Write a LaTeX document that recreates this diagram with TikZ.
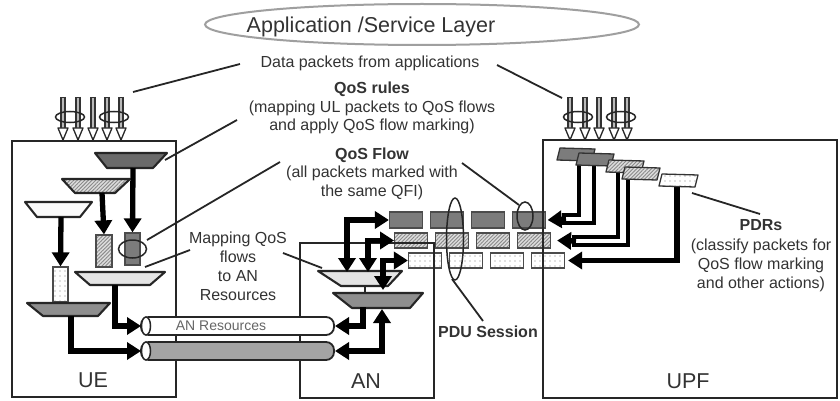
\documentclass[tikz,border=0pt]{standalone}
\usepackage{fontspec}
\setmainfont{Liberation Sans}
\usetikzlibrary{arrows.meta,patterns.meta}
\definecolor{txt}{HTML}{333333}
\definecolor{pdark}{HTML}{7C7C7C}
\definecolor{tdark}{HTML}{6A6A6A}
\definecolor{tgrey}{HTML}{8E8E8E}
\definecolor{tlight}{HTML}{E4E4E4}
\definecolor{hbg}{HTML}{DDDDDD}
\definecolor{hln}{HTML}{8A8A8A}
\definecolor{tubegrey}{HTML}{A4A4A4}
\begin{document}
\begin{tikzpicture}[x=1pt,y=-1pt,
  txtnode/.style={text=txt, inner sep=0pt, align=center},
  bodyfont/.style={font=\fontsize{16pt}{18.5pt}\selectfont},
  bigfont/.style={font=\fontsize{21.5pt}{24pt}\selectfont},
  boxline/.style={draw=black!85, line width=2.4pt},
  thinline/.style={draw=black!85, line width=1.8pt},
  loopline/.style={draw=black!85, line width=1.5pt},
  bigarrow/.style={draw=black, line width=5.3pt, -{Triangle[length=14pt,width=17pt]}},
  dblarrow/.style={draw=black, line width=5.3pt, {Triangle[length=14pt,width=17pt]}-{Triangle[length=14pt,width=17pt]}},
  flowline/.style={draw=black, line width=4.6pt},
  pkt/.style={draw=black!70, line width=1.2pt, minimum width=33pt, minimum height=15pt, inner sep=0pt},
  pktdark/.style={pkt, fill=pdark},
  hatchfill/.style={preaction={fill=hbg}, pattern={Lines[angle=45,distance=2.6pt,line width=0.9pt]}, pattern color=hln},
  dotfill/.style={preaction={fill=white}, pattern={Dots[distance=5pt,radius=0.7pt]}, pattern color=gray},
  pkthatch/.style={pkt, hatchfill},
  pktdot/.style={pkt, dotfill},
  trap/.style={draw=black!85, line width=2.1pt, line join=round},
  tube/.style={draw=black!85, line width=1.8pt, rounded corners=8pt},
  pdr/.style={draw=black!80, line width=1.3pt, line join=round},
]
\useasboundingbox (0,0) rectangle (840,401);
\fill[white] (0,0) rectangle (840,401);

% Application layer
\draw[draw=gray!75, line width=2pt] (422,24.5) ellipse[x radius=217pt, y radius=20.5pt];
\node[txtnode, bigfont] (applbl) at (371,27) {Application /Service Layer};
\node[txtnode, bodyfont] (datalbl) at (370,63) {Data packets from applications};
\node[txtnode, bodyfont] (rules) at (372,108) {\textbf{QoS rules}\\(mapping UL packets to QoS flows\\and apply QoS flow marking)};
\node[txtnode, bodyfont] (flow) at (372,173.5) {\textbf{QoS Flow}\\(all packets marked with\\the same QFI)};
\node[txtnode, font=\fontsize{16pt}{19pt}\selectfont] (mapping) at (238,266.5) {Mapping QoS\\flows\\to AN\\Resources};
\node[txtnode, font=\fontsize{16pt}{19.3pt}\selectfont] (pdrs) at (761,256) {\textbf{PDRs}\\(classify packets for\\QoS flow marking\\and other actions)};
\node[txtnode, font=\fontsize{16pt}{18pt}\selectfont\bfseries] (pdu) at (488,332) {PDU Session};

% packet arrows from applications
\foreach \x in {63,78,93,107,121,570,585,599,614,627} {
  \draw[line width=6.5pt, black!80] (\x,97) -- (\x,129);
  \draw[line width=2.6pt, gray!55] (\x,98.5) -- (\x,129);
  \draw[line width=1.3pt, draw=black!85, fill=white, line join=round] ({\x-5},128) -- ({\x+5},128) -- (\x,140) -- cycle;
}
\foreach \c in {70,114,578,621} {
  \draw[loopline] (\c,117) ellipse[x radius=14.5pt, y radius=5.5pt];
}

% QoS flow packets (middle)
\foreach \i in {1,...,4} {
  \node[pktdark, minimum height=16pt] (d\i) at ({406+41*(\i-1)},220) {};
  \node[pkthatch] (h\i) at ({411+41*(\i-1)},240.5) {};
  \node[pktdot] (w\i) at ({425+41*(\i-1)},260.5) {};
}

% boxes
\draw[boxline] (12,141) rectangle (176,397);
\draw[boxline] (300,243) rectangle (434,398);
\draw[boxline] (543,140) -- (837,140) -- (837,398) -- (543,398) -- cycle;
\node[txtnode, bigfont] (uelbl) at (93,380) {UE};
\node[txtnode, bigfont] (anlbl) at (366,381) {AN};
\node[txtnode, bigfont] (upflbl) at (688,381) {UPF};

% tubes (AN resources)
\draw[tube, fill=white] (141,317) rectangle (334,335);
\draw[loopline, fill=white] (146,326) ellipse[x radius=4.5pt, y radius=9pt];
\draw[tube, fill=tubegrey] (141,342) rectangle (334,360);
\draw[loopline, fill=white] (146,351) ellipse[x radius=4.5pt, y radius=9pt];
\node[txtnode, font=\fontsize{14pt}{16pt}\selectfont, text=black!60] (anres) at (221,326) {AN Resources};
\coordinate (tube1L) at (141,326);
\coordinate (tube2L) at (141,351);
\coordinate (tube1R) at (335,326);
\coordinate (tube2R) at (335,351);

% UE internals
\draw[trap, fill=tdark] (95,153) -- (167,153) -- (153,168) -- (107,168) -- cycle;
\draw[trap, hatchfill] (62,179) -- (130,179) -- (115,193) -- (75,193) -- cycle;
\draw[trap, fill=gray!4] (25,202) -- (92,202) -- (80,217) -- (37,217) -- cycle;
\coordinate (t1b) at (133,168);
\coordinate (t2b) at (102,193);
\coordinate (t3b) at (61,217);
\node[draw=black!70, line width=1.2pt, fill=pdark, minimum width=15pt, minimum height=32pt, inner sep=0pt] (ued) at (132.5,249) {};
\node[draw=black!70, line width=1.2pt, hatchfill, minimum width=16pt, minimum height=32pt, inner sep=0pt] (ueh) at (104,251) {};
\node[draw=black!70, line width=1.2pt, dotfill, minimum width=15pt, minimum height=35pt, inner sep=0pt] (uew) at (60.5,284.5) {};
\draw[bigarrow] (t1b) -- (ued.north);
\draw[bigarrow] (t2b) -- (ueh.north);
\draw[bigarrow] (t3b) -- (uew.north);
\draw[loopline] (ued.center) ellipse[x radius=14pt, y radius=9pt];
\draw[trap, fill=tlight] (75,272) -- (165,272) -- (150,285) -- (90,285) -- cycle;
\draw[trap, fill=tgrey] (27,303) -- (110,303) -- (98,316) -- (43,316) -- cycle;
\coordinate (t4b) at (115,285);
\coordinate (t5b) at (71,316);
\draw[bigarrow] (t4b) |- (tube1L);
\draw[bigarrow] (t5b) |- (tube2L);

% AN internals
\draw[trap, fill=tlight] (318,271) -- (402,271) -- (388,286) -- (341,286) -- cycle;
\draw[trap, fill=tgrey] (333,293) -- (423,293) -- (410,308) -- (352,308) -- cycle;
\draw[line width=2pt, black!85] (365,286) -- (365,293);
\coordinate (a1t) at (347,272);
\coordinate (a2t) at (368,272);
\coordinate (a3t) at (383,290);
\coordinate (a4b) at (363,307);
\coordinate (a5b) at (382,309);
\draw[dblarrow] (a1t) |- (d1.west);
\draw[dblarrow] (a2t) |- (h1.west);
\draw[dblarrow] (a3t) |- (w1.west);
\draw[bigarrow] (a4b) |- (tube1R);
\draw[dblarrow] (a5b) |- (tube2R);

% UPF internals
\coordinate (p1b) at (579,158);
\coordinate (p2b) at (594,163);
\coordinate (p3b) at (618,171);
\coordinate (p4b) at (628,178);
\coordinate (p5b) at (677,185);
\draw[flowline] (p1b) |- (562,215);
\draw[flowline] (p2b) |- (562,223);
\draw[bigarrow] (566,219) -- ([xshift=1.5pt]d4.east);
\draw[flowline] (p3b) |- (572,237);
\draw[flowline] (p4b) |- (572,245);
\draw[bigarrow] (576,241) -- ([xshift=6pt]h4.east);
\draw[bigarrow] (p5b) |- ([xshift=3pt]w4.east);
\draw[pdr, fill=pdark] (560,148) -- (595,149) -- (592,161) -- (557,160) -- cycle;
\draw[pdr, fill=pdark] (579,153) -- (614,154) -- (611,166) -- (576,165) -- cycle;
\draw[pdr, hatchfill] (609,160) -- (644,161) -- (641,173) -- (606,172) -- cycle;
\draw[pdr, hatchfill] (625,167) -- (660,168) -- (657,180) -- (622,179) -- cycle;
\draw[pdr, dotfill] (662,174) -- (698,175) -- (695,187) -- (659,186) -- cycle;

% loops
\draw[loopline] (525,216) ellipse[x radius=8pt, y radius=14pt];
\draw[loopline] (455,239) ellipse[x radius=8.5pt, y radius=41pt];

% callout lines
\coordinate (dlA) at (240,64);   \coordinate (dlB) at (133,92);
\coordinate (drA) at (497,65);   \coordinate (drB) at (562,98);
\coordinate (rlA) at (237,120);  \coordinate (rlB) at (165,160);
\coordinate (flA) at (280,162);  \coordinate (flB) at (147,240);
\coordinate (frA) at (462,163);  \coordinate (frB) at (519,205);
\coordinate (mlA) at (190,250);  \coordinate (mlB) at (145,267);
\coordinate (mrA) at (283,253);  \coordinate (mrB) at (322,268);
\coordinate (puA) at (452,279);  \coordinate (puB) at (483,321);
\coordinate (pdA) at (760,214);  \coordinate (pdB) at (692,193);
\draw[thinline] (dlA) -- (dlB);
\draw[thinline] (drA) -- (drB);
\draw[thinline] (rlA) -- (rlB);
\draw[thinline] (flA) -- (flB);
\draw[thinline] (frA) -- (frB);
\draw[thinline] (mlA) -- (mlB);
\draw[thinline] (mrA) -- (mrB);
\draw[thinline] (puA) -- (puB);
\draw[thinline] (pdA) -- (pdB);
\end{tikzpicture}
\end{document}
